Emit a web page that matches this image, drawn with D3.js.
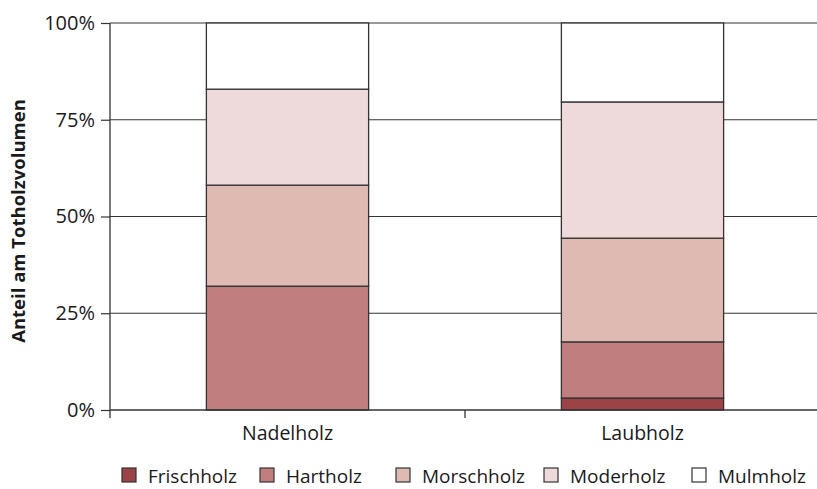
<!DOCTYPE html>
<html>
<head>
<meta charset="utf-8">
<script src="https://cdn.jsdelivr.net/npm/d3@7"></script>
<style>
  html, body { margin: 0; padding: 0; background: #fff; }
  svg { display: block; }
  text { font-family: "Open Sans", sans-serif; fill: #1a1a1a; }
</style>
</head>
<body>
<svg id="chart" width="817" height="489"></svg>
<script>
// Wood categories along the x axis
const categories = ["Nadelholz", "Laubholz"];

// Decomposition stages, stacked from bottom to top
const stages = ["Frischholz", "Hartholz", "Morschholz", "Moderholz", "Mulmholz"];

// Share of dead-wood volume per stage (%)
const frischholz = [0.0, 3.1];
const hartholz   = [32.0, 14.5];
const morschholz = [26.1, 26.8];
const moderholz  = [24.8, 35.2];
const mulmholz   = [17.1, 20.4];

const yTicks = [0, 25, 50, 75, 100];
const yTickLabels = ["0%", "25%", "50%", "75%", "100%"];
const yTitle = "Anteil am Totholzvolumen";

const stageColors = ["#9b4347", "#c07f7e", "#dfbab3", "#eedadb", "#ffffff"];

const seriesValues = [frischholz, hartholz, morschholz, moderholz, mulmholz];
const rows = categories.map((c, i) => {
  const r = { category: c };
  stages.forEach((s, j) => { r[s] = seriesValues[j][i]; });
  return r;
});

const svg = d3.select("#chart");
const plotLeft = 110, plotRight = 820, plotTop = 23, plotBottom = 410;

const x = d3.scaleBand().domain(categories).range([plotLeft, plotRight])
  .paddingInner(0.543).paddingOuter(0.2715);
const y = d3.scaleLinear().domain([0, 100]).range([plotBottom, plotTop]);
const color = d3.scaleOrdinal().domain(stages).range(stageColors);

// Horizontal gridlines
svg.append("g")
  .selectAll("line")
  .data(yTicks.filter(t => t > 0))
  .join("line")
  .attr("x1", plotLeft).attr("x2", 817)
  .attr("y1", d => y(d)).attr("y2", d => y(d))
  .attr("stroke", "#333").attr("stroke-width", 1.2);

// Stacked bars
const stack = d3.stack().keys(stages)(rows);
svg.append("g")
  .selectAll("g")
  .data(stack)
  .join("g")
  .attr("fill", d => color(d.key))
  .selectAll("rect")
  .data(d => d.filter(p => p[1] - p[0] > 0))
  .join("rect")
  .attr("x", d => x(d.data.category))
  .attr("width", x.bandwidth())
  .attr("y", d => y(d[1]))
  .attr("height", d => y(d[0]) - y(d[1]))
  .attr("stroke", "#333")
  .attr("stroke-width", 1.3);

// Y axis
const yAxis = d3.axisLeft(y)
  .tickValues(yTicks)
  .tickFormat((d, i) => yTickLabels[i])
  .tickSize(9)
  .tickPadding(6);
const gy = svg.append("g").attr("transform", `translate(${plotLeft},0)`).call(yAxis);
gy.select(".domain").remove();
gy.selectAll(".tick line").attr("stroke", "#333").attr("stroke-width", 1.2);
gy.selectAll(".tick text")
  .attr("font-size", 20)
  .attr("font-family", "'Open Sans', sans-serif")
  .attr("fill", "#1a1a1a");
svg.append("line")
  .attr("x1", plotLeft).attr("x2", plotLeft)
  .attr("y1", plotTop).attr("y2", plotBottom + 8)
  .attr("stroke", "#333").attr("stroke-width", 1.3);

// X axis with category-boundary ticks
svg.append("line")
  .attr("x1", plotLeft).attr("x2", 817)
  .attr("y1", plotBottom).attr("y2", plotBottom)
  .attr("stroke", "#333").attr("stroke-width", 1.5);
const boundaries = categories.slice(1).map(c => x(c) - x.step() * x.paddingInner() / 2);
svg.append("g")
  .selectAll("line")
  .data(boundaries)
  .join("line")
  .attr("x1", d => d).attr("x2", d => d)
  .attr("y1", plotBottom).attr("y2", plotBottom + 8)
  .attr("stroke", "#333").attr("stroke-width", 1.3);

svg.append("g")
  .selectAll("text")
  .data(categories)
  .join("text")
  .attr("x", d => x(d) + x.bandwidth() / 2)
  .attr("y", 440)
  .attr("text-anchor", "middle")
  .attr("font-size", 19.5)
  .text(d => d);

// Y axis title
svg.append("text")
  .attr("transform", "translate(25,221) rotate(-90)")
  .attr("text-anchor", "middle")
  .attr("font-family", "'Liberation Sans', Arial, sans-serif")
  .attr("font-weight", "bold")
  .attr("font-size", 18.5)
  .text(yTitle);

// Legend
const legendX = [122, 260, 396, 544, 692];
const lg = svg.append("g")
  .selectAll("g")
  .data(stages)
  .join("g")
  .attr("transform", (d, i) => `translate(${legendX[i]},468)`);
lg.append("rect")
  .attr("width", 14).attr("height", 14)
  .attr("fill", d => color(d))
  .attr("stroke", "#333").attr("stroke-width", 1.2);
lg.append("text")
  .attr("x", 26).attr("y", 14.5)
  .attr("font-size", 19)
  .text(d => d);
</script>
</body>
</html>
